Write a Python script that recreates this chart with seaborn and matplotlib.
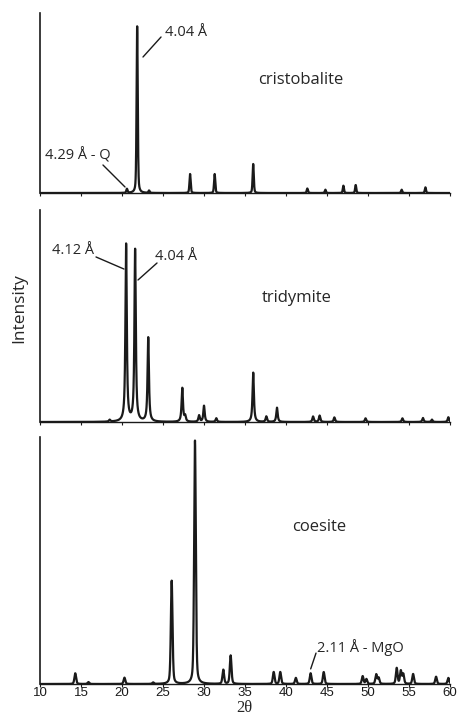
import numpy as np
import pandas as pd
import matplotlib
matplotlib.use("Agg")
import matplotlib.pyplot as plt
import seaborn as sns

# ---- peak data (2theta, relative intensity) ----
cristobalite_pos = [20.6, 21.85, 23.3, 28.3, 31.3, 36.0, 42.6, 44.8, 47.0, 48.5, 54.1, 57.0]
cristobalite_int = [0.024, 1.0, 0.014, 0.114, 0.114, 0.174, 0.027, 0.02, 0.044, 0.048, 0.02, 0.034]

tridymite_pos = [18.5, 20.5, 21.6, 23.2, 27.35, 27.7, 29.4, 30.0, 31.5, 36.0, 37.6, 38.9,
                 43.3, 44.1, 45.9, 49.7, 54.2, 56.7, 57.8, 59.8]
tridymite_int = [0.01, 0.97, 0.94, 0.46, 0.185, 0.03, 0.035, 0.088, 0.02, 0.27, 0.03, 0.078,
                 0.03, 0.035, 0.025, 0.02, 0.02, 0.022, 0.013, 0.026]

coesite_pos = [14.3, 15.9, 20.3, 23.8, 26.06, 28.9, 32.35, 33.25, 38.5, 39.3, 41.2, 43.0,
               44.6, 49.35, 49.8, 51.0, 51.3, 53.5, 54.0, 54.3, 55.5, 58.3, 59.8]
coesite_int = [0.044, 0.008, 0.026, 0.006, 0.424, 1.0, 0.058, 0.117, 0.049, 0.049, 0.025, 0.044,
               0.049, 0.032, 0.02, 0.039, 0.025, 0.065, 0.053, 0.04, 0.041, 0.03, 0.025]

x_ticks = [10, 15, 20, 25, 30, 35, 40, 45, 50, 55, 60]


def profile(pos, inten, fwhm, eta):
    x = np.arange(10.0, 60.0001, 0.005)
    y = np.zeros_like(x)
    g = fwhm / 2.0
    s = fwhm / 2.3548
    for p, h in zip(pos, inten):
        lor = g**2 / ((x - p) ** 2 + g**2)
        gau = np.exp(-0.5 * ((x - p) / s) ** 2)
        y += h * (eta * lor + (1 - eta) * gau)
    return pd.DataFrame({"two_theta": x, "intensity": y})


sns.set_style("ticks")
plt.rcParams["font.family"] = ["Open Sans", "DejaVu Sans"]

fig = plt.figure(figsize=(4.57, 7.16), dpi=100)
L, W = 40 / 457, 410 / 457
ax_c = fig.add_axes([L, 1 - 193 / 716, W, 180 / 716])
ax_t = fig.add_axes([L, 1 - 422 / 716, W, 212 / 716])
ax_b = fig.add_axes([L, 1 - 684 / 716, W, 247 / 716])

panels = [
    (ax_c, profile(cristobalite_pos, cristobalite_int, 0.17, 0.4), 1.08),
    (ax_t, profile(tridymite_pos, tridymite_int, 0.2, 0.85), 1.16),
    (ax_b, profile(coesite_pos, coesite_int, 0.24, 0.4), 1.015),
]

for ax, df, ytop in panels:
    sns.lineplot(data=df, x="two_theta", y="intensity", ax=ax, color="#1a1a1a",
                 linewidth=1.6, estimator=None, sort=False)
    ax.set_xlim(10, 60)
    ax.set_ylim(0, ytop)
    ax.set_xticks(x_ticks)
    ax.set_yticks([])
    ax.set_xlabel("")
    ax.set_ylabel("")
    for sp in ["top", "right"]:
        ax.spines[sp].set_visible(False)
    ax.spines["left"].set_linewidth(1.2)
    ax.spines["bottom"].set_linewidth(1.0)
    ax.spines["left"].set_color("#1a1a1a")
    ax.spines["bottom"].set_color("#1a1a1a")
    ax.tick_params(axis="x", direction="out", length=2.2, width=0.8, colors="#1a1a1a")

ax_c.set_xticklabels([])
ax_t.set_xticklabels([])
ax_b.set_xticklabels([str(t) for t in x_ticks], fontfamily="Liberation Sans", fontsize=9.5)
ax_b.tick_params(axis="x", pad=0.2)

fs_ann = 10.5
fs_name = 12
lk = dict(color="#1a1a1a", linewidth=1.0)

# cristobalite
ax_c.text(25.24, 0.96, "4.04 Å", fontsize=fs_ann, ha="left", va="center")
ax_c.plot([22.56, 24.76], [0.816, 0.936], **lk)
ax_c.text(36.6, 0.678, "cristobalite", fontsize=fs_name, ha="left", va="center")
ax_c.text(10.6, 0.228, "4.29 Å - Q", fontsize=fs_ann, ha="left", va="center")
ax_c.plot([17.68, 20.37], [0.168, 0.036], **lk)

# tridymite
ax_t.text(11.46, 0.941, "4.12 Å", fontsize=fs_ann, ha="left", va="center")
ax_t.plot([16.83, 20.24], [0.903, 0.837], **lk)
ax_t.text(24.02, 0.903, "4.04 Å", fontsize=fs_ann, ha="left", va="center")
ax_t.plot([24.27, 21.95], [0.870, 0.777], **lk)
ax_t.text(37.07, 0.678, "tridymite", fontsize=fs_name, ha="left", va="center")

# coesite
ax_b.text(40.73, 0.645, "coesite", fontsize=fs_name, ha="left", va="center")
ax_b.text(43.78, 0.152, "2.11 Å - MgO", fontsize=fs_ann, ha="left", va="center")
ax_b.plot([43.66, 43.01], [0.127, 0.062], **lk)

fig.text(19 / 457, 1 - 308 / 716, "Intensity", rotation=90, fontsize=12.5,
         ha="center", va="center")
fig.text(244 / 457, 0.0, "2θ", fontsize=12, fontfamily="Liberation Serif",
         ha="center", va="bottom")

fig.savefig("out.png", dpi=100)
